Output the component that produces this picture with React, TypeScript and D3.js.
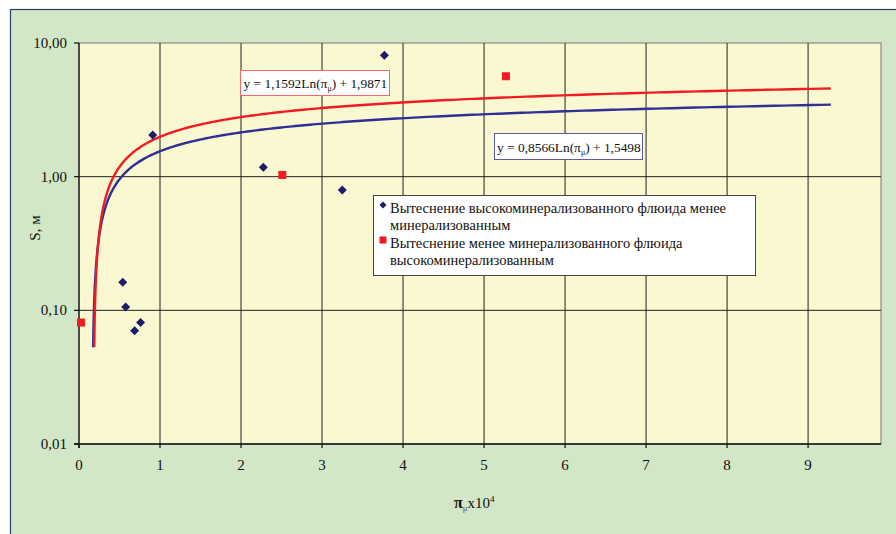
import React from "react";
import * as d3 from "d3";

// Blue series: displacement of highly mineralized fluid by less mineralized
const blueX = [0.54, 0.576, 0.687, 0.76, 0.91, 2.275, 3.25, 3.77];
const blueY = [0.162, 0.106, 0.0705, 0.081, 2.05, 1.175, 0.796, 8.09];
// Red series: displacement of less mineralized fluid by highly mineralized
const redX = [0.025, 2.51, 5.27];
const redY = [0.081, 1.03, 5.64];

// Logarithmic trendlines y = a*ln(x) + b
const redTrend = { a: 1.1592, b: 1.9871, label: "1,1592", c: "1,9871" };
const blueTrend = { a: 0.8566, b: 1.5498, label: "0,8566", c: "1,5498" };
const trendEnd = 9.28;
const trendFloor = 0.053;

const xTicks = [0, 1, 2, 3, 4, 5, 6, 7, 8, 9];
const yTicks = [0.01, 0.1, 1, 10];
const yTickLabels = ["0,01", "0,10", "1,00", "10,00"];

const legendItems = [
  ["Вытеснение высокоминерализованного флюида менее", "минерализованным"],
  ["Вытеснение менее минерализованного флюида", "высокоминерализованным"],
];

const FONT = "Liberation Serif, Times New Roman, DejaVu Serif, serif";
const BLUE = "#2f2f96";
const RED = "#f01c24";
const DOT = "#1c1c6a";

// rhombus with equal diagonals
const rhombus = (r: number) => `M0,${-r}L${r},0L0,${r}L${-r},0Z`;

export default function App() {
  const W = 896;
  const H = 534;
  const left = 79, right = 881, top = 43, bottom = 444;
  const x = d3.scaleLinear().domain([0, 9.9]).range([left, right]);
  const y = d3.scaleLog().domain([0.01, 10]).range([bottom, top]);

  const trendPath = (t: { a: number; b: number }) => {
    const x0 = Math.exp((trendFloor - t.b) / t.a);
    const n = 300;
    const pts: [number, number][] = [];
    for (let i = 0; i <= n; i++) {
      // log-spaced samples so the steep part near the origin stays smooth
      const xv = x0 * Math.pow(trendEnd / x0, i / n);
      pts.push([xv, t.a * Math.log(xv) + t.b]);
    }
    return d3
      .line<[number, number]>()
      .x((d) => x(d[0]))
      .y((d) => y(d[1]))(pts) as string;
  };

  const ts = { fontFamily: FONT };

  return (
    <svg
      width={W}
      height={H}
      style={{ position: "absolute", left: 0, top: 0, display: "block", fontFamily: FONT }}
    >
      <rect x={0} y={0} width={W} height={H} fill="#ffffff" />
      <rect x={10.5} y={9.5} width={W + 20} height={H + 20} fill="#d1e7c7" stroke="#2c3c70" strokeWidth={1.2} />

      {/* plot area */}
      <rect x={left} y={top} width={right - left} height={bottom - top} fill="#faf8d0" stroke="#8a8a8a" strokeWidth={1.2} />

      {/* gridlines */}
      {xTicks.slice(1).map((t) => (
        <line key={"gx" + t} x1={x(t)} x2={x(t)} y1={top} y2={bottom} stroke="#222" strokeWidth={1} />
      ))}
      {yTicks.slice(1, 3).map((t) => (
        <line key={"gy" + t} x1={left} x2={right} y1={y(t)} y2={y(t)} stroke="#222" strokeWidth={1} />
      ))}

      {/* axes */}
      <line x1={left} x2={left} y1={top} y2={bottom + 4} stroke="#111" strokeWidth={1.3} />
      <line x1={left - 5} x2={right} y1={bottom} y2={bottom} stroke="#111" strokeWidth={1.3} />
      {yTicks.map((t, i) => (
        <g key={"yt" + t}>
          <line x1={left - 5} x2={left} y1={y(t)} y2={y(t)} stroke="#111" strokeWidth={1.2} />
          <text x={left - 12} y={y(t) + 5} textAnchor="end" fontSize={15} fill="#111" style={ts}>
            {yTickLabels[i]}
          </text>
        </g>
      ))}
      {xTicks.map((t) => (
        <g key={"xt" + t}>
          <line x1={x(t)} x2={x(t)} y1={bottom} y2={bottom + 4} stroke="#111" strokeWidth={1.2} />
          <text x={x(t)} y={bottom + 26} textAnchor="middle" fontSize={15} fill="#111" style={ts}>
            {t}
          </text>
        </g>
      ))}

      {/* red squares (under the trendlines) */}
      {redX.map((v, i) => (
        <rect key={"r" + i} x={x(v) - 4} y={y(redY[i]) - 4} width={8} height={8} fill={RED} />
      ))}

      {/* trendlines */}
      <path d={trendPath(blueTrend)} fill="none" stroke={BLUE} strokeWidth={2.4} />
      <path d={trendPath(redTrend)} fill="none" stroke={RED} strokeWidth={2.4} />

      {/* blue diamonds */}
      {blueX.map((v, i) => (
        <path key={"b" + i} d={rhombus(4.5)} transform={`translate(${x(v)},${y(blueY[i])})`} fill={DOT} />
      ))}

      {/* trendline equations */}
      <g>
        <rect x={240.5} y={70.5} width={149} height={25} fill="#fff" stroke="#f06a6a" strokeWidth={1} />
        <text x={243.5} y={88} fontSize={13.4} fill="#111" style={ts}>
          y = {redTrend.label}Ln(π<tspan fontSize={8} dy={3}>μ</tspan>
          <tspan dy={-3}>) + {redTrend.c}</tspan>
        </text>
      </g>
      <g>
        <rect x={494.5} y={133.5} width={148} height={26} fill="#fff" stroke="#5a5aa8" strokeWidth={1} />
        <text x={497} y={151.5} fontSize={13.4} fill="#111" style={ts}>
          y = {blueTrend.label}Ln(π<tspan fontSize={8} dy={3}>μ</tspan>
          <tspan dy={-3}>) + {blueTrend.c}</tspan>
        </text>
      </g>

      {/* legend */}
      <g>
        <rect x={373.5} y={195.5} width={382} height={80} fill="#fff" stroke="#444" strokeWidth={1} />
        <path d={rhombus(3.5)} transform="translate(383,205)" fill={DOT} />
        <rect x={379.5} y={236.5} width={7} height={7} fill={RED} />
        {legendItems.map((lines, i) =>
          lines.map((ln, j) => (
            <text key={`l${i}${j}`} x={390} y={213 + i * 35 + j * 17} fontSize={14.5} fill="#111" style={ts}>
              {ln}
            </text>
          ))
        )}
      </g>

      {/* axis titles */}
      <text transform="translate(40,228) rotate(-90)" textAnchor="middle" fontSize={15} fill="#111" style={ts}>
        S, м
      </text>
      <text x={454} y={508} fontSize={15} fill="#111" style={ts}>
        <tspan fontWeight="bold" fontSize={16}>π</tspan>
        <tspan fontSize={9} dy={3} fill="#555">μ</tspan>
        <tspan dy={-3}>x10</tspan>
        <tspan fontSize={9} dy={-6}>4</tspan>
      </text>
    </svg>
  );
}
